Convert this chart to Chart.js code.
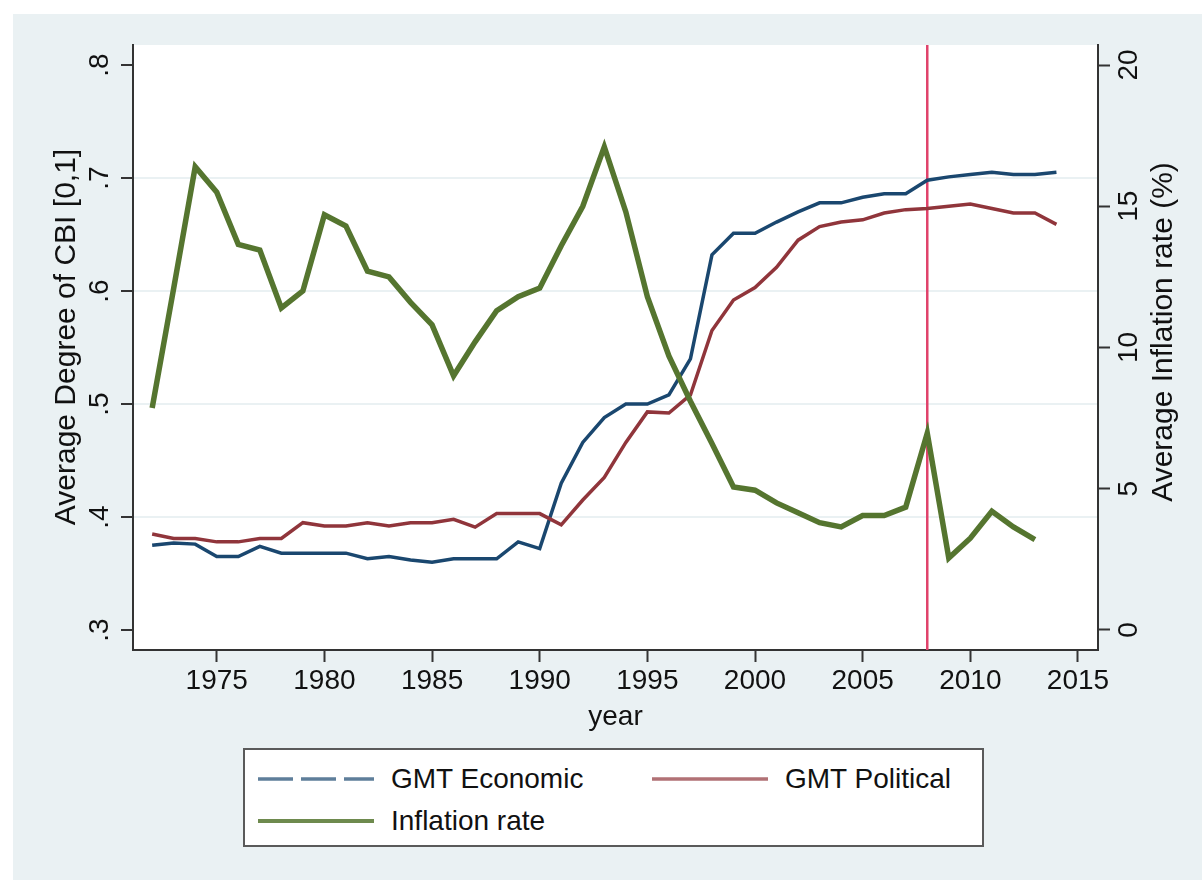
<!DOCTYPE html>
<html>
<head>
<meta charset="utf-8">
<script src="https://cdn.jsdelivr.net/npm/chart.js@4.4.1/dist/chart.umd.min.js"></script>
<style>
    html, body { margin: 0; padding: 0; background: #fff; }
    #wrap { position: relative; width: 1202px; height: 880px; }
    #legend {
        position: absolute; left: 243px; top: 748px; width: 737px; height: 95px;
        background: #fff; border: 2px solid #5a5a5a;
        font-family: "Liberation Sans", Arial, Helvetica, sans-serif; font-size: 28px; color: #111;
    }
    #legend svg { position: absolute; }
    #legend span { position: absolute; line-height: 1; white-space: nowrap; }
</style>
</head>
<body>
<div id="wrap">
    <canvas id="chart" width="1202" height="880"></canvas>
    <div id="legend">
        <svg style="left:13px; top:26px" width="116" height="6"><line x1="0" y1="3" x2="116" y2="3" stroke="#1a476f" stroke-opacity="0.7" stroke-width="3.5" stroke-dasharray="35 8"/></svg>
        <span style="left:146px; top:15px">GMT Economic</span>
        <svg style="left:407px; top:26px" width="116" height="6"><line x1="0" y1="3" x2="116" y2="3" stroke="#90353b" stroke-opacity="0.7" stroke-width="3.5"/></svg>
        <span style="left:540px; top:15px">GMT Political</span>
        <svg style="left:13px; top:68px" width="116" height="6"><line x1="0" y1="3" x2="116" y2="3" stroke="#55752f" stroke-opacity="0.85" stroke-width="4"/></svg>
        <span style="left:146px; top:57px">Inflation rate</span>
    </div>
</div>
<script>
// data
const years = [1972, 1973, 1974, 1975, 1976, 1977, 1978, 1979, 1980, 1981,
    1982, 1983, 1984, 1985, 1986, 1987, 1988, 1989, 1990, 1991,
    1992, 1993, 1994, 1995, 1996, 1997, 1998, 1999, 2000, 2001,
    2002, 2003, 2004, 2005, 2006, 2007, 2008, 2009, 2010, 2011,
    2012, 2013, 2014];

const gmtEconomic = [.375, .377, .376, .365, .365, .374, .368, .368, .368, .368,
    .363, .365, .362, .360, .363, .363, .363, .378, .372, .430,
    .466, .488, .500, .500, .508, .540, .632, .651, .651, .661,
    .670, .678, .678, .683, .686, .686, .698, .701, .703, .705,
    .703, .703, .705];

const gmtPolitical = [.385, .381, .381, .378, .378, .381, .381, .395, .392, .392,
    .395, .392, .395, .395, .398, .391, .403, .403, .403, .393,
    .415, .435, .466, .493, .492, .508, .565, .592, .603, .621,
    .645, .657, .661, .663, .669, .672, .673, .675, .677, .673,
    .669, .669, .659];

const inflation = [7.86, 12.1, 16.4, 15.5, 13.65, 13.45, 11.4, 12.0, 14.7, 14.3,
    12.7, 12.5, 11.6, 10.8, 9.0, 10.2, 11.3, 11.8, 12.1, 13.6,
    15.0, 17.1, 14.8, 11.8, 9.7, 8.1, 6.6, 5.06, 4.95, 4.5,
    4.15, 3.8, 3.65, 4.05, 4.05, 4.35, 6.97, 2.55, 3.25, 4.2,
    3.65, 3.2, null];

const xTicks = [1975, 1980, 1985, 1990, 1995, 2000, 2005, 2010, 2015];
const cbiTicks = [.3, .4, .5, .6, .7, .8];
const cbiTickLabels = ['.3', '.4', '.5', '.6', '.7', '.8'];
const inflTicks = [0, 5, 10, 15, 20];
const crisisYear = 2008;

const FONT = '"Liberation Sans", Arial, Helvetica, sans-serif';
const BG = '#eaf1f3';
const AXIS = '#333';

const toPoints = arr => years.map((y, i) => ({ x: y, y: arr[i] }));

// background, crisis line, rotated y labels
const decor = {
    id: 'decor',
    beforeDraw(chart) {
        const { ctx, chartArea: a } = chart;
        ctx.save();
        ctx.fillStyle = BG;
        ctx.fillRect(13, 14, chart.width - 13, chart.height - 14);
        ctx.fillStyle = '#fff';
        ctx.fillRect(a.left, a.top, a.right - a.left, a.bottom - a.top);
        ctx.restore();
    },
    beforeDatasetsDraw(chart) {
        const { ctx, chartArea: a } = chart;
        const x = chart.scales.x.getPixelForValue(crisisYear);
        ctx.save();
        ctx.strokeStyle = '#e0426b';
        ctx.lineWidth = 2.5;
        ctx.beginPath();
        ctx.moveTo(x, a.top);
        ctx.lineTo(x, a.bottom);
        ctx.stroke();
        ctx.restore();
    },
    afterDraw(chart) {
        const { ctx } = chart;
        const yl = chart.scales.y;
        const yr = chart.scales.y2;
        const vtext = (txt, x, y) => {
            ctx.save();
            ctx.translate(x, y);
            ctx.rotate(-Math.PI / 2);
            ctx.fillText(txt, 0, 0);
            ctx.restore();
        };
        ctx.save();
        ctx.fillStyle = '#111';
        ctx.font = '28px ' + FONT;
        ctx.textAlign = 'center';
        ctx.textBaseline = 'middle';
        cbiTicks.forEach((v, i) => vtext(cbiTickLabels[i], 100, yl.getPixelForValue(v)));
        inflTicks.forEach(v => vtext(String(v), 1129, yr.getPixelForValue(v)));
        ctx.font = '30px ' + FONT;
        vtext('Average Degree of CBI [0,1]', 67, 337);
        vtext('Average Inflation rate (%)', 1164, 332);
        ctx.restore();
    }
};

new Chart(document.getElementById('chart'), {
    type: 'line',
    data: {
        datasets: [
            {
                label: 'GMT Economic',
                data: toPoints(gmtEconomic),
                yAxisID: 'y',
                borderColor: '#1a476f',
                borderWidth: 3.5,
                pointRadius: 0,
                order: 2
            },
            {
                label: 'GMT Political',
                data: toPoints(gmtPolitical),
                yAxisID: 'y',
                borderColor: '#90353b',
                borderWidth: 3.5,
                pointRadius: 0,
                order: 1
            },
            {
                label: 'Inflation rate',
                data: toPoints(inflation),
                yAxisID: 'y2',
                borderColor: '#55752f',
                borderWidth: 5.5,
                pointRadius: 0,
                order: 0
            }
        ]
    },
    options: {
        responsive: false,
        animation: false,
        devicePixelRatio: 1,
        layout: { padding: { left: 13, top: 45, right: 0, bottom: 0 } },
        plugins: {
            legend: { display: false },
            tooltip: { enabled: false }
        },
        scales: {
            x: {
                type: 'linear',
                min: 1971.11,
                max: 2015.93,
                afterBuildTicks: s => { s.ticks = xTicks.map(v => ({ value: v })); },
                afterFit: s => { s.height = 230; },
                grid: { drawOnChartArea: false, tickLength: 12, tickColor: AXIS, tickWidth: 2 },
                border: { color: AXIS, width: 2 },
                ticks: {
                    color: '#111',
                    padding: 2,
                    font: { family: FONT, size: 28 },
                    callback: v => String(v)
                },
                title: {
                    display: true,
                    text: 'year',
                    color: '#111',
                    font: { family: FONT, size: 28 },
                    padding: { top: 0, bottom: 146 }
                }
            },
            y: {
                position: 'left',
                min: 0.2823,
                max: 0.8177,
                afterBuildTicks: s => { s.ticks = cbiTicks.map(v => ({ value: v })); },
                afterFit: s => { s.width = 120; },
                grid: {
                    color: c => (c.tick && (c.tick.value === .3 || c.tick.value === .8)) ? 'rgba(0,0,0,0)' : BG,
                    lineWidth: 2,
                    tickLength: 12,
                    tickColor: AXIS,
                    tickWidth: 2
                },
                border: { color: AXIS, width: 2 },
                ticks: { display: false }
            },
            y2: {
                position: 'right',
                min: -0.708,
                max: 20.708,
                afterBuildTicks: s => { s.ticks = inflTicks.map(v => ({ value: v })); },
                afterFit: s => { s.width = 104; },
                grid: { drawOnChartArea: false, tickLength: 12, tickColor: AXIS, tickWidth: 2 },
                border: { color: AXIS, width: 2 },
                ticks: { display: false }
            }
        }
    },
    plugins: [decor]
});
</script>
</body>
</html>
